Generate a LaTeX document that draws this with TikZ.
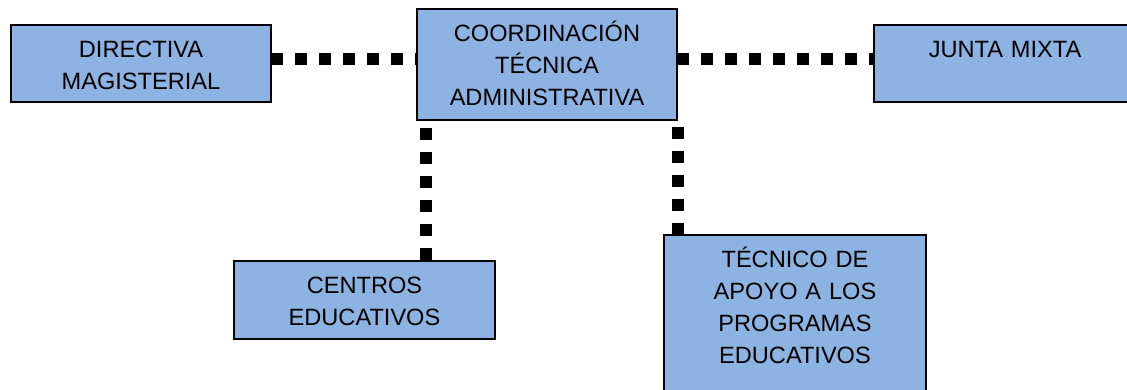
\documentclass[tikz,border=0pt]{standalone}
\usepackage{fontspec}
\setmainfont{Liberation Sans}
\definecolor{boxblue}{RGB}{141,179,226}
\begin{document}
\begin{tikzpicture}[x=1pt,y=-1pt,
  shapebox/.style={minimum width=#1, anchor=north west, inner sep=0pt, outer sep=0pt},
  boxtext/.style={anchor=base, align=center, inner sep=0pt, text width=#1, font=\fontsize{23.6pt}{32pt}\selectfont},
  boxline/.style={line width=2pt, fill=boxblue},
  dotline/.style={line width=12pt, dash pattern=on 12pt off 12pt}]
\useasboundingbox (0,0) rectangle (1127,389);
\clip (0,0) rectangle (1127,389);
% boxes (shapes; drawn later over connectors)
\path (11,25) node[shapebox=260pt, minimum height=77pt] (dm) {};
\path (417,9) node[shapebox=260pt, minimum height=111pt] (co) {};
\path (874,25) node[shapebox=270pt, minimum height=77pt] (jm) {};
\path (234,261) node[shapebox=261pt, minimum height=78pt] (ce) {};
\path (664,235) node[shapebox=262pt, minimum height=180pt] (te) {};
% connectors
\draw[dotline] ([yshift=5.5pt]dm.east |- co.center) -- ([yshift=5.5pt]co.west |- co.center);
\draw[dotline] ([yshift=5.5pt]co.east |- co.center) -- ([yshift=5.5pt]jm.west |- co.center);
\draw[dotline] ([xshift=9pt,yshift=-8pt]co.south west) -- ([xshift=9pt]co.south west |- ce.north);
\draw[dotline] ([xshift=1pt,yshift=-7pt]co.south east) -- ([xshift=1pt]co.south east |- te.north);
% visible boxes
\draw[boxline] (dm.north west) rectangle (dm.south east);
\draw[boxline] (co.north west) rectangle (co.south east);
\draw[boxline] (jm.north west) rectangle (jm.south east);
\draw[boxline] (ce.north west) rectangle (ce.south east);
\draw[boxline] (te.north west) rectangle (te.south east);
% texts
\node[boxtext=260pt] (dmt) at ([yshift=-32pt]dm.north) {DIRECTIVA\\MAGISTERIAL};
\node[boxtext=260pt] (cot) at ([yshift=-32pt]co.north) {COORDINACIÓN\\TÉCNICA\\ADMINISTRATIVA};
\node[boxtext=260pt] (jmt) at ([yshift=-32pt,xshift=-4pt]jm.north) {JUNTA MIXTA};
\node[boxtext=260pt] (cet) at ([yshift=-32pt]ce.north) {CENTROS\\EDUCATIVOS};
\node[boxtext=260pt] (tet) at ([yshift=-32pt]te.north) {TÉCNICO DE\\APOYO A LOS\\PROGRAMAS\\EDUCATIVOS};
\end{tikzpicture}
\end{document}
